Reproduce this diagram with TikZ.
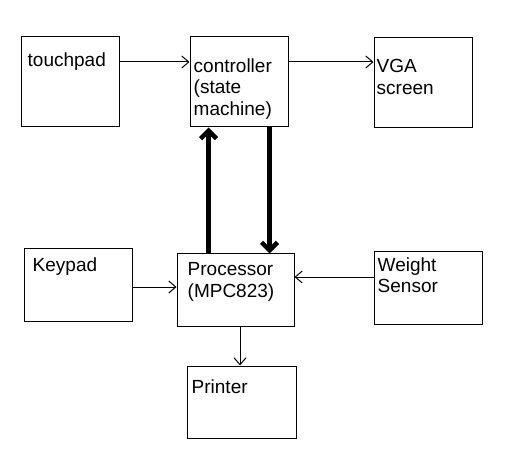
\documentclass[tikz,border=0pt]{standalone}
\usepackage{fontspec}
\setmainfont{Liberation Sans}
\usetikzlibrary{arrows.meta}
\begin{document}
\begin{tikzpicture}[x=1pt, y=-1pt,
                    block/.style={draw, line width=1pt, inner sep=0pt},
                    caption/.style={anchor=north west, inner sep=0pt, align=left, font=\fontsize{19}{21.5}\selectfont},
                    link/.style={line width=1pt, -{Straight Barb[length=7pt, width=12pt]}},
                    bus/.style={line width=4.5pt, -{Straight Barb[length=8pt, width=16pt]}}]
\useasboundingbox (0,0) rectangle (511,454);
% boxes
\node[block, minimum width=98pt, minimum height=90pt] (tp) at (70,82) {};
\node[block, minimum width=98pt, minimum height=90pt] (ctrl) at (239,82) {};
\node[block, minimum width=98pt, minimum height=90pt] (vga) at (423,83) {};
\node[block, minimum width=108pt, minimum height=72pt] (kp) at (78,285) {};
\node[block, minimum width=117pt, minimum height=72pt] (proc) at (235.5,290) {};
\node[block, minimum width=108pt, minimum height=72pt] (ws) at (428,288) {};
\node[block, minimum width=109pt, minimum height=72pt] (pr) at (241.5,402) {};
% texts
\node[caption] (tptxt) at ([shift={(7,16)}]tp.north west) {touchpad};
\node[caption] (ctrltxt) at ([shift={(4,22)}]ctrl.north west) {controller\\(state\\machine)};
\node[caption] (vgatxt) at ([shift={(3,22)}]vga.north west) {VGA\\screen};
\node[caption] (kptxt) at ([shift={(9,9)}]kp.north west) {Keypad};
\node[caption] (proctxt) at ([shift={(11,9)}]proc.north west) {Processor\\(MPC823)};
\node[caption] (wstxt) at ([shift={(4,6)}]ws.north west) {Weight\\Sensor};
\node[caption] (prtxt) at ([shift={(5,14)}]pr.north west) {Printer};
% connections
\draw[link] ([yshift=20pt]tp.east) -- ([yshift=20pt]tp.east -| ctrl.west);
\draw[link] ([yshift=20pt]ctrl.east) -- ([yshift=20pt]ctrl.east -| vga.west);
\draw[link] ([yshift=-2pt]kp.east) -- ([yshift=-2pt]kp.east -| proc.west);
\draw[link] ([yshift=11pt]ws.west) -- ([yshift=11pt]ws.west -| proc.east);
\draw[link] ([xshift=4.5pt]proc.south) -- ([xshift=4.5pt]proc.south |- pr.north);
\draw[bus] ([xshift=19pt]ctrl.south west |- proc.north) -- ([xshift=19pt]ctrl.south west);
\draw[bus] ([xshift=80pt]ctrl.south west) -- ([xshift=80pt]ctrl.south west |- proc.north);
\end{tikzpicture}
\end{document}
